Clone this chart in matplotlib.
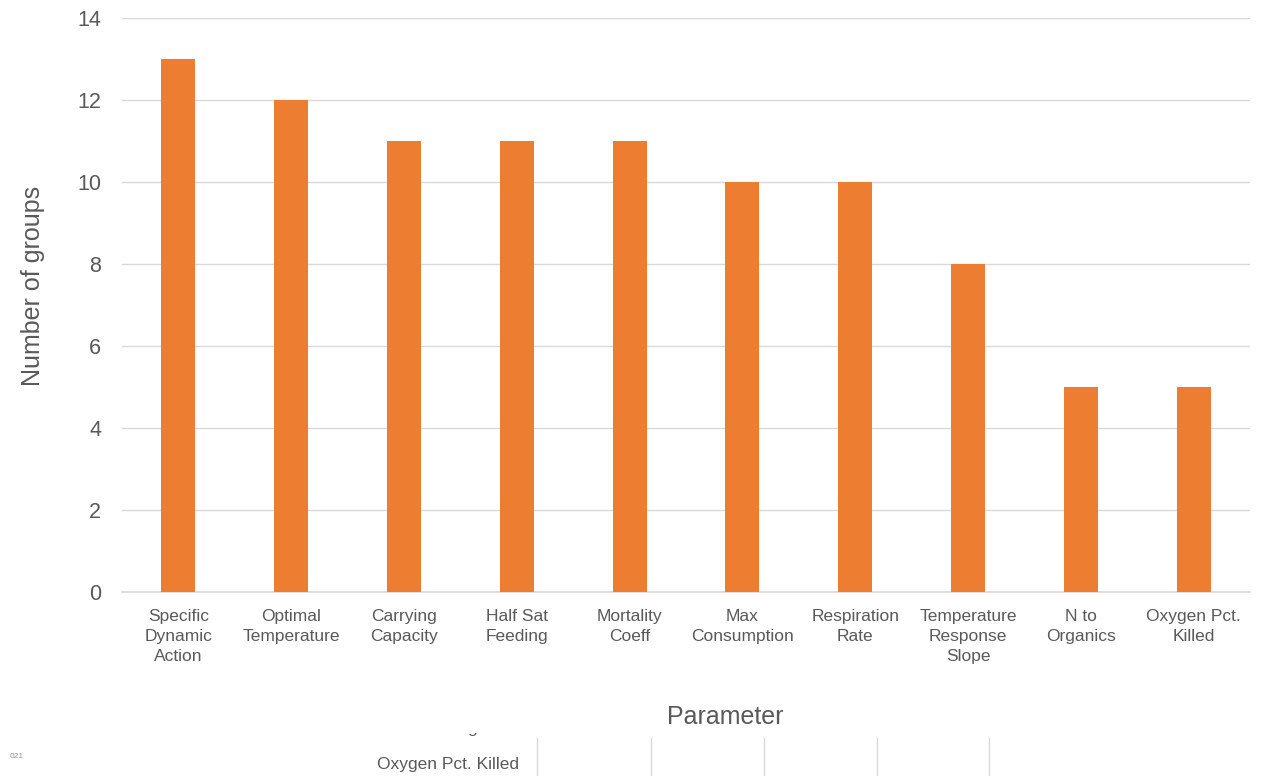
import matplotlib

matplotlib.use("Agg")
import matplotlib.pyplot as plt
import numpy as np
from matplotlib.transforms import Bbox

plt.rcParams["font.family"] = ["Liberation Sans", "DejaVu Sans"]

# groups using each parameter
params = ["Specific\nDynamic\nAction", "Optimal\nTemperature", "Carrying\nCapacity",
          "Half Sat\nFeeding", "Mortality\nCoeff", "Max\nConsumption",
          "Respiration\nRate", "Temperature\nResponse\nSlope", "N to\nOrganics",
          "Oxygen Pct.\nKilled"]
n_groups = [13, 12, 11, 11, 11, 10, 10, 8, 5, 5]
y_ticks = [0, 2, 4, 6, 8, 10, 12, 14]

TEXT = "#595959"
GRID = "#d9d9d9"
ORANGE = "#ED7D31"

fig = plt.figure(figsize=(12.68, 7.76), dpi=100)
ax = fig.add_axes([122 / 1268, 184 / 776, 1128 / 1268, 574 / 776])

x = np.arange(len(params))
ax.bar(x, n_groups, width=0.3, color=ORANGE, zorder=3)
ax.set_xlim(-0.5, len(params) - 0.5)
ax.set_ylim(0, 14)
ax.set_yticks(y_ticks)
ax.set_xticks(x)
ax.set_xticklabels(params, fontsize=12.5, color=TEXT, linespacing=1.45)
ax.tick_params(axis="y", labelsize=15.5, colors=TEXT, length=0, pad=15)
ax.tick_params(axis="x", length=0, pad=12)
ax.grid(axis="y", color=GRID, lw=1, zorder=0)
for side in ("top", "right", "left"):
    ax.spines[side].set_visible(False)
ax.spines["bottom"].set_color(GRID)
ax.spines["bottom"].set_linewidth(1.2)

fig.text(33 / 1268, 1 - 286 / 776, "Number of groups", rotation=90, fontsize=18,
         color=TEXT, ha="center", va="center")
fig.text(725 / 1268, 1 - 717 / 776, "Parameter", fontsize=18, color=TEXT,
         ha="center", va="center")

# leftover table strip under the chart
fig.text(519 / 1268, 1 - 765 / 776, "Oxygen Pct. Killed", fontsize=12.5,
         color=TEXT, ha="right", va="center")
cut = fig.text(519 / 1268, 1 - 729 / 776, "N to Organics", fontsize=12.5,
               color=TEXT, ha="right", va="center")
cut.set_clip_box(Bbox([[350, 0], [530, 776 - 733]]))
cut.set_clip_on(True)
fig.text(10 / 1268, 1 - 757 / 776, "021", fontsize=6, color="#999999",
         ha="left", va="center")
for xp in [537, 651, 764, 877, 989]:
    fig.add_artist(plt.Line2D([xp / 1268, xp / 1268], [0, 38 / 776],
                              color=GRID, lw=1))

fig.savefig("out.png", dpi=100)
